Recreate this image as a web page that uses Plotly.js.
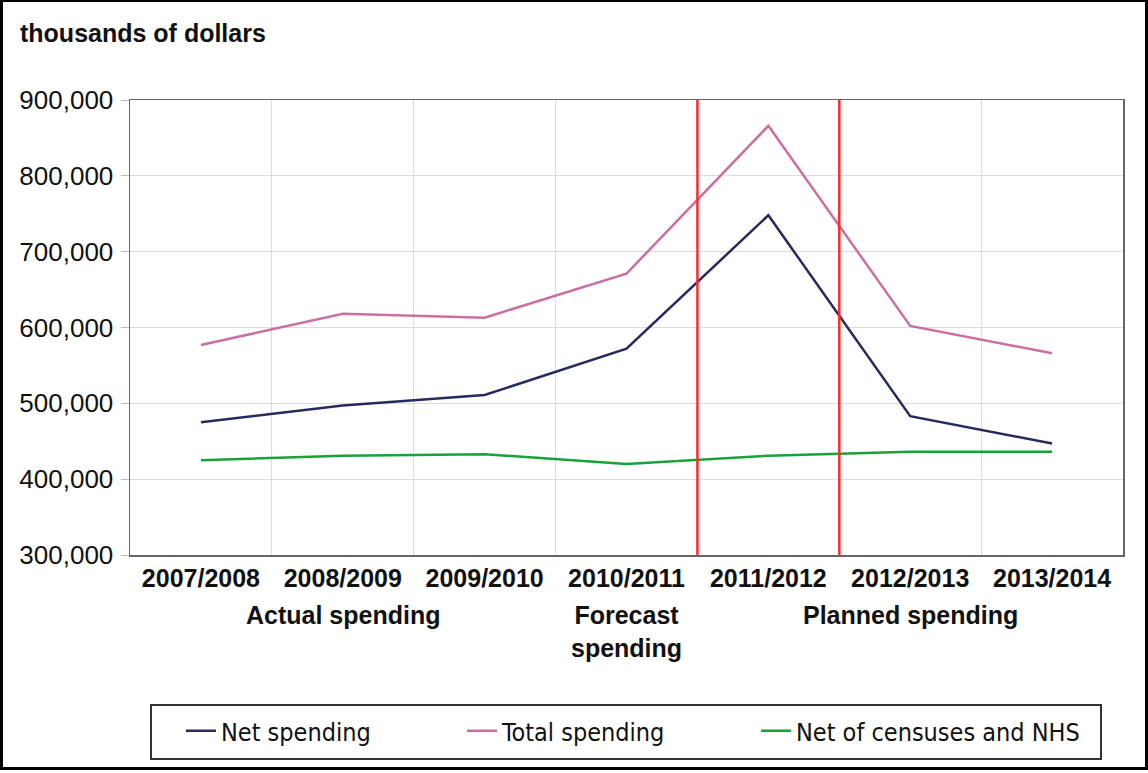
<!DOCTYPE html>
<html>
<head>
<meta charset="utf-8">
<script src="https://cdn.plot.ly/plotly-3.0.1.min.js"></script>
<style>
  html, body { margin: 0; padding: 0; background: #fff; }
  #wrap { position: relative; width: 1148px; height: 773px; }
  #chart { width: 1148px; height: 773px; }
  #frame { position: absolute; left: 0; top: 0; width: 1148px; height: 770px; box-sizing: border-box;
           border: 3px solid #000; border-top-width: 2px; pointer-events: none; }
</style>
</head>
<body>
<div id="wrap">
  <div id="chart"></div>
  <div id="frame"></div>
</div>
<script>
const years = ["2007/2008", "2008/2009", "2009/2010", "2010/2011", "2011/2012", "2012/2013", "2013/2014"];
const netSpending = [475000, 497000, 511000, 572000, 748000, 483000, 447000];
const totalSpending = [577000, 618000, 613000, 671000, 866000, 602000, 566000];
const netOfCensuses = [425000, 431000, 433000, 420000, 431000, 436000, 436000];
const seriesNames = ["Net spending", "Total spending", "Net of censuses and NHS"];
const seriesColors = ["#272a5c", "#cc6fa0", "#17a23a"];
const periodLabels = ["Actual spending", "Forecast<br>spending", "Planned spending"];
const periodCenters = [1, 3, 5];
const periodDividers = [3.5, 4.5];

const legendIds = ["legend", "legend2", "legend3"];
const legendLeftPx = [181, 462, 756];

const seriesValues = [netSpending, totalSpending, netOfCensuses];
const traces = seriesValues.map((vals, i) => ({
  type: "scatter",
  mode: "lines",
  x: years,
  y: vals,
  name: seriesNames[i],
  legend: legendIds[i],
  line: { color: seriesColors[i], width: 2.5 },
  hoverinfo: "x+y+name"
}));

const shapes = periodDividers.map(d => ({
  type: "line", xref: "x", yref: "paper",
  x0: d, x1: d, y0: 0, y1: 1,
  line: { color: "#ff2a2a", width: 2.5 }
}));
// legend frame
shapes.push({
  type: "rect", xref: "paper", yref: "paper",
  x0: 21 / 993, x1: 971 / 993, y0: -204 / 455, y1: -150 / 455,
  line: { color: "#333", width: 2 }, fillcolor: "rgba(0,0,0,0)", layer: "below"
});

const annotations = periodLabels.map((t, i) => ({
  text: t, xref: "x", yref: "paper",
  x: periodCenters[i], y: -0.097, xanchor: "center", yanchor: "top",
  showarrow: false, align: "center",
  font: { family: "Liberation Sans, Arial, sans-serif", size: 25, color: "#111", weight: "bold" }
}));

const layout = {
  width: 1148, height: 773,
  margin: { l: 130, r: 25, t: 100, b: 218, autoexpand: false },
  paper_bgcolor: "#fff", plot_bgcolor: "#fff",
  font: { family: "Liberation Sans, Arial, sans-serif", color: "#111" },
  title: {
    text: "<b>thousands of dollars</b>",
    x: 20 / 1148, xref: "container", xanchor: "left",
    y: 1 - 33 / 773, yref: "container", yanchor: "middle",
    font: { family: "Liberation Sans, Arial, sans-serif", size: 25, color: "#111" }
  },
  xaxis: {
    type: "category",
    range: [-0.5, 6.5],
    tickson: "boundaries",
    ticks: "",
    showgrid: true, gridcolor: "#dcdcdc", gridwidth: 1,
    showline: true, linecolor: "#666", linewidth: 1.5, mirror: true,
    tickfont: { family: "Liberation Sans, Arial, sans-serif", size: 25, color: "#111", weight: "bold" },
    fixedrange: true
  },
  yaxis: {
    range: [300000, 900000],
    dtick: 100000,
    tickformat: ",d",
    ticks: "outside", ticklen: 8, tickcolor: "#bbb",
    ticklabelstandoff: 2,
    showgrid: true, gridcolor: "#dcdcdc", gridwidth: 1,
    showline: true, linecolor: "#666", linewidth: 1.5, mirror: true,
    zeroline: false,
    tickfont: { family: "Liberation Sans, Arial, sans-serif", size: 26, color: "#111" },
    fixedrange: true
  },
  showlegend: true,
  shapes: shapes,
  annotations: annotations
};

legendIds.forEach((id, i) => {
  layout[id] = {
    orientation: "h",
    x: (legendLeftPx[i] - 130) / 993, xanchor: "left",
    y: -153 / 455, yanchor: "top",
    borderwidth: 0,
    bgcolor: "rgba(0,0,0,0)",
    font: { family: "Liberation Sans Narrow, DejaVu Sans Condensed, Arial Narrow, sans-serif", size: 25, color: "#111" },
    itemclick: false, itemdoubleclick: false
  };
});

Plotly.newPlot("chart", traces, layout, { displayModeBar: false, staticPlot: true });
</script>
</body>
</html>
